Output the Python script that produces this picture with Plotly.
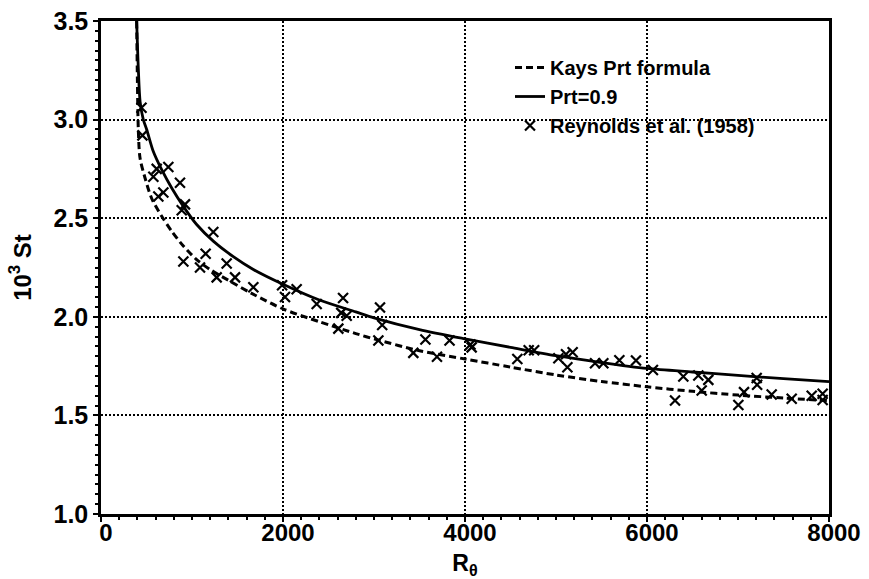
import plotly.graph_objects as go

# Stanton number vs. momentum-thickness Reynolds number
# Kays turbulent Prandtl number formula (dashed curve)
kays_re = [392, 400, 410, 429, 484, 557, 667, 777, 905, 1051, 1198, 1420, 1650,
           2000, 2400, 2800, 3000, 3500, 4000, 4500, 5000, 5500, 6000, 6500,
           7000, 7500, 8000]
kays_st = [3.5, 3.2, 2.95, 2.805, 2.704, 2.60, 2.51, 2.434, 2.359, 2.29, 2.24,
           2.18, 2.12, 2.04, 1.975, 1.915, 1.888, 1.828, 1.786, 1.745, 1.705,
           1.672, 1.645, 1.622, 1.603, 1.588, 1.575]

# Constant turbulent Prandtl number Prt = 0.9 (solid curve)
prt_re = [392, 410, 430, 465, 502, 575, 667, 777, 905, 1051, 1234, 1454, 1674,
          2000, 2400, 2800, 3000, 3500, 4000, 4500, 5000, 5500, 6000, 6500,
          7000, 7500, 8000]
prt_st = [3.5, 3.26, 3.09, 3.0, 2.95, 2.838, 2.746, 2.653, 2.56, 2.468, 2.384,
          2.305, 2.24, 2.165, 2.085, 2.025, 1.995, 1.935, 1.888, 1.845, 1.803,
          1.768, 1.738, 1.72, 1.703, 1.686, 1.671]

# Reynolds et al. (1958) measurements
exp_re = [445, 455, 740, 612, 575, 868, 685, 630, 923, 887, 1234, 1150, 905,
          1088, 1381, 1271, 1473, 1674, 1990, 2150, 2022, 2370, 2660, 2700,
          2640, 2608, 3066, 3090, 3048, 3432, 3565, 3692, 3830, 4060, 4073,
          4575, 4700, 4760, 5026, 5110, 5183, 5125, 5429, 5520, 5696, 5879,
          6065, 6399, 6564, 6674, 6601, 6308, 7205, 7210, 7066, 7004, 7370,
          7590, 7810, 7930, 7930]
exp_st = [3.06, 2.92, 2.76, 2.75, 2.71, 2.68, 2.63, 2.61, 2.57, 2.54, 2.43,
          2.32, 2.28, 2.25, 2.27, 2.20, 2.20, 2.15, 2.16, 2.14, 2.10, 2.065,
          2.095, 2.005, 2.02, 1.94, 2.047, 1.958, 1.88, 1.817, 1.885, 1.797,
          1.88, 1.86, 1.845, 1.786, 1.83, 1.83, 1.79, 1.81, 1.82, 1.744,
          1.764, 1.764, 1.78, 1.778, 1.73, 1.697, 1.702, 1.68, 1.626, 1.576,
          1.69, 1.655, 1.618, 1.553, 1.606, 1.584, 1.60, 1.61, 1.578]

x_ticks = [0, 2000, 4000, 6000, 8000]
y_ticks = [1.0, 1.5, 2.0, 2.5, 3.0, 3.5]

FONT = "Liberation Sans"

fig = go.Figure()
fig.add_trace(go.Scatter(
    x=kays_re, y=kays_st, mode="lines", name="Kays Prt formula",
    line=dict(color="black", width=3, dash="7px,4px", shape="spline", smoothing=0.8),
))
fig.add_trace(go.Scatter(
    x=prt_re, y=prt_st, mode="lines", name="Prt=0.9",
    line=dict(color="black", width=2.8, shape="spline", smoothing=0.8),
))
fig.add_trace(go.Scatter(
    x=exp_re, y=exp_st, mode="markers", name="Reynolds et al. (1958)",
    marker=dict(symbol="x-thin", size=10, line=dict(color="black", width=2.2)),
))

grid_dash = "1.5px,2.5px"
fig.update_xaxes(
    range=[0, 8000], tickvals=x_ticks, ticktext=[str(v) for v in x_ticks],
    showline=True, linecolor="black", linewidth=2.5, mirror=True,
    ticks="outside", ticklen=5, tickwidth=1.5, tickcolor="black",
    minor=dict(dtick=200, ticks="outside", ticklen=3, tickcolor="black", showgrid=False),
    showgrid=True, gridcolor="black", gridwidth=1.5, griddash=grid_dash,
    zeroline=False, ticklabelshift=5, ticklabelstandoff=-10,
    tickfont=dict(family=FONT, size=24, color="black", weight="bold"),
    title=dict(text="R<sub>θ</sub>", standoff=12,
               font=dict(family=FONT, size=23, color="black", weight="bold")),
)
fig.update_yaxes(
    range=[1.0, 3.5], tickvals=y_ticks, ticktext=[f"{v:.1f}" for v in y_ticks],
    showline=True, linecolor="black", linewidth=2.5, mirror=True,
    ticks="outside", ticklen=5, tickwidth=1.5, tickcolor="black",
    minor=dict(dtick=0.05, ticks="outside", ticklen=3, tickcolor="black", showgrid=False),
    showgrid=True, gridcolor="black", gridwidth=1.5, griddash=grid_dash,
    zeroline=False,
    tickfont=dict(family=FONT, size=25, color="black", weight="bold"),
    title=dict(text="10<sup>3</sup> St", standoff=16,
               font=dict(family=FONT, size=24, color="black", weight="bold")),
)

fig.update_layout(
    width=869, height=579,
    margin=dict(l=101, r=40, t=21, b=65, autoexpand=False),
    paper_bgcolor="white", plot_bgcolor="white",
    showlegend=True,
    legend=dict(
        x=(510 - 101) / 728, y=(514 - 48) / 493, xanchor="left", yanchor="top",
        bgcolor="rgba(0,0,0,0)", borderwidth=0,
        font=dict(family=FONT, size=20, color="black", weight="bold"),
        tracegroupgap=0,
    ),
)

fig.write_html("out.html")
